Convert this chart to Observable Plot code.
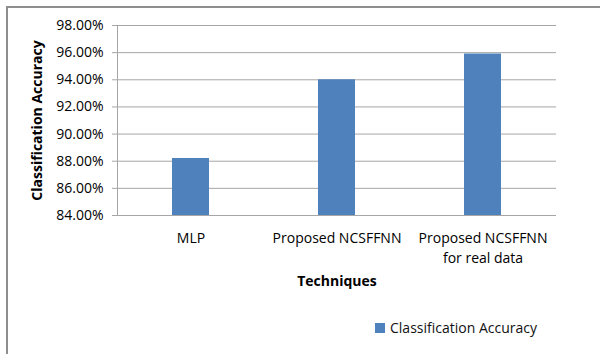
<!DOCTYPE html>
<html>
<head>
<meta charset="utf-8">
<script src="https://cdn.jsdelivr.net/npm/d3@7"></script>
<script src="https://cdn.jsdelivr.net/npm/@observablehq/plot@0.6"></script>
<style>
  html, body { margin: 0; padding: 0; background: #fff; overflow: hidden; }
  #wrap { position: relative; width: 600px; height: 354px; font-family: "Open Sans", sans-serif; }
  #border { position: absolute; left: 6px; top: 6px; width: 640px; height: 400px; border: 2px solid #8e8e8e; box-sizing: border-box; }
  #chart { position: absolute; left: 0; top: 0; }
  #legend { position: absolute; left: 375px; top: 318px; font-size: 14px; color: #111; display: flex; align-items: center; white-space: nowrap; }
  #legend .sw { width: 10px; height: 10px; background: #4F81BD; margin-right: 5px; }
</style>
</head>
<body>
<div id="wrap">
  <div id="border"></div>
  <div id="chart"></div>
  <div id="legend"><span class="sw"></span><span>Classification Accuracy</span></div>
</div>
<script>
const categories = ["MLP", "Proposed NCSFFNN", "Proposed NCSFFNN\nfor real data"];
const accuracy = [0.882, 0.940, 0.959];
const yTicks = [0.84, 0.86, 0.88, 0.90, 0.92, 0.94, 0.96, 0.98];
const xTitle = "Techniques";
const yTitle = "Classification Accuracy";
const seriesName = "Classification Accuracy";

const data = categories.map((c, i) => ({category: c, value: accuracy[i]}));

const chart = Plot.plot({
  width: 600,
  height: 354,
  marginLeft: 117,
  marginRight: 44,
  marginTop: 25,
  marginBottom: 139,
  style: {fontFamily: "Open Sans, sans-serif", fontSize: "14px", color: "#000", background: "transparent"},
  x: {domain: categories, paddingInner: 0.747, paddingOuter: 0.3735, label: null},
  y: {domain: [0.84, 0.98], label: null},
  marks: [
    Plot.gridY(yTicks, {stroke: "#a6a6a6", strokeOpacity: 1, strokeWidth: 1}),
    Plot.barY(data, {x: "category", y: "value", fill: "#4F81BD", clip: true}),
    Plot.frame({anchor: "left", stroke: "#a6a6a6", strokeWidth: 1}),
    Plot.ruleY([0.84], {stroke: "#a6a6a6", strokeWidth: 1}),
    Plot.axisY({ticks: yTicks, tickFormat: d3.format(".2%"), tickSize: 5, tickPadding: 9, stroke: "#a6a6a6", label: null, fontSize: 14}),
    Plot.axisX({tickSize: 0, tickPadding: 13, label: null, fontSize: 14, lineHeight: 1.45}),
    Plot.text([xTitle], {frameAnchor: "bottom", dy: 66, fontWeight: "bold", fontSize: 14, lineAnchor: "middle"}),
    Plot.text([yTitle], {frameAnchor: "left", dx: -80, rotate: -90, textAnchor: "middle", fontWeight: "bold", fontSize: 14, lineAnchor: "middle"})
  ]
});
document.getElementById("chart").appendChild(chart);
</script>
</body>
</html>
